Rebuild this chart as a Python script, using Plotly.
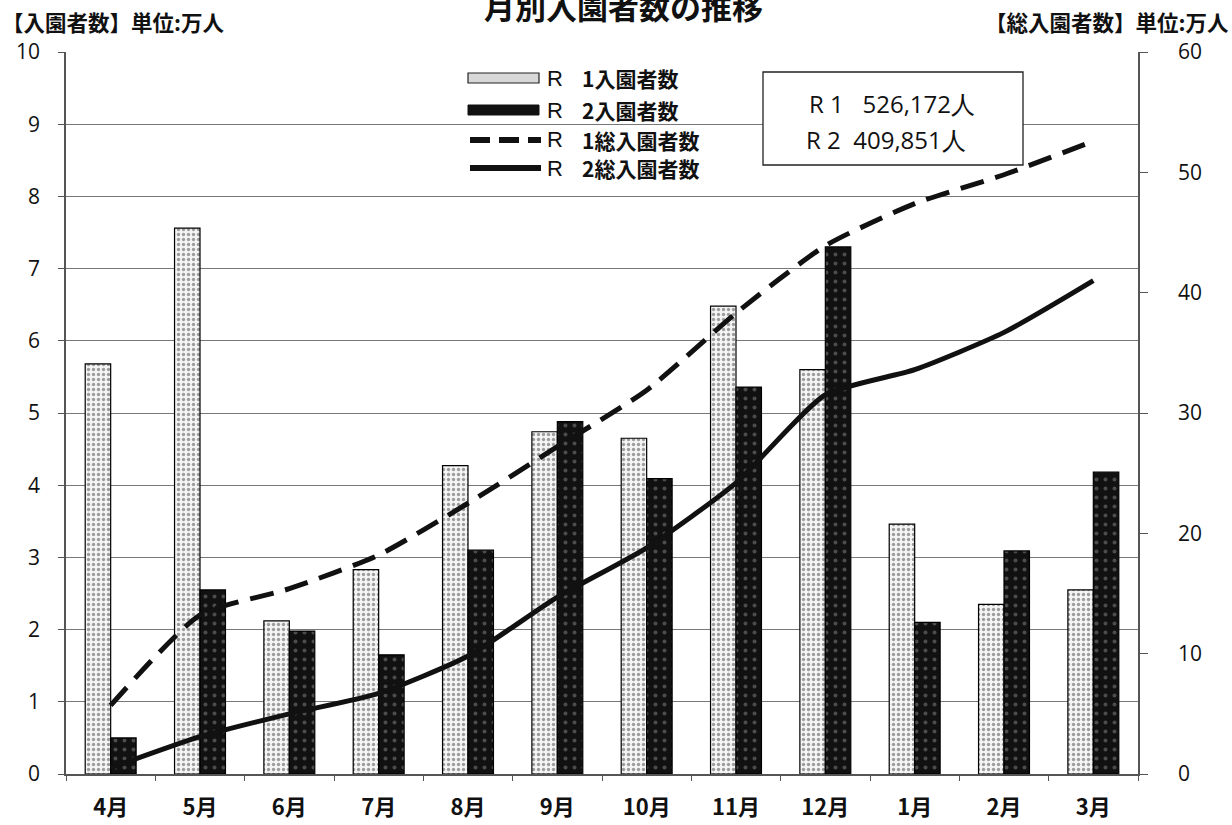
import plotly.graph_objects as go

months = ["4月", "5月", "6月", "7月", "8月", "9月", "10月", "11月", "12月", "1月", "2月", "3月"]
r1_monthly = [5.68, 7.56, 2.12, 2.83, 4.27, 4.74, 4.65, 6.48, 5.60, 3.46, 2.35, 2.55]
r2_monthly = [0.50, 2.55, 1.98, 1.65, 3.10, 4.88, 4.09, 5.36, 7.30, 2.10, 3.09, 4.18]
r1_total = [5.7, 13.2, 15.4, 18.2, 22.5, 27.2, 31.9, 38.3, 43.9, 47.4, 49.8, 52.6]
r2_total = [0.5, 3.1, 5.0, 6.7, 9.8, 14.7, 18.8, 24.2, 31.5, 33.6, 36.7, 41.0]
series_names = ["R\u30001入園者数", "R\u30002入園者数", "R\u30001総入園者数", "R\u30002総入園者数"]
legend_prefix = ["R", "R", "R", "R"]
legend_rest = ["1入園者数", "2入園者数", "1総入園者数", "2総入園者数"]

left_ticks = list(range(0, 11))
right_ticks = list(range(0, 61, 10))

JP = "Noto Sans CJK JP"
NUM = "Open Sans"

W, H = 1232, 825
ML, MR, MT, MB = 66, 94, 52, 51
PW, PH = W - ML - MR, H - MT - MB


def px(xp):
    return (xp - ML) / PW


def py(yp):
    return (H - MB - yp) / PH


fig = go.Figure()
fig.add_trace(go.Bar(
    x=months, y=r1_monthly, name=series_names[0],
    marker=dict(color="white", line=dict(color="black", width=1.2),
                pattern=dict(shape=".", fgcolor="#444", bgcolor="#f4f4f4", size=5, solidity=0.35)),
    yaxis="y",
))
fig.add_trace(go.Bar(
    x=months, y=r2_monthly, name=series_names[1],
    marker=dict(color="#111", line=dict(color="black", width=1.2),
                pattern=dict(shape=".", fgcolor="#888", bgcolor="#111", size=9, solidity=0.15)),
    yaxis="y",
))
fig.add_trace(go.Scatter(
    x=months, y=r1_total, name=series_names[2], mode="lines",
    line=dict(color="#111", width=5, dash="24px,12px", shape="spline", smoothing=0.6),
    yaxis="y2",
))
fig.add_trace(go.Scatter(
    x=months, y=r2_total, name=series_names[3], mode="lines",
    line=dict(color="#111", width=5, shape="spline", smoothing=0.6),
    yaxis="y2",
))

fig.update_layout(
    width=W, height=H,
    margin=dict(l=ML, r=MR, t=MT, b=MB, autoexpand=False),
    paper_bgcolor="white", plot_bgcolor="white",
    barmode="group", bargap=0.43, bargroupgap=0.0,
    font=dict(family=JP, color="#111"),
    showlegend=False,
    xaxis=dict(
        type="category", showgrid=False, showline=True, linecolor="#555", linewidth=1.5,
        ticks="outside", ticklen=5, tickcolor="#555", tickson="boundaries",
        tickfont=dict(family=JP, size=22, color="#111", weight="bold"), ticklabelstandoff=13,
    ),
    yaxis=dict(
        range=[0, 10], tickvals=left_ticks, showgrid=True, gridcolor="#777", gridwidth=1.2,
        showline=True, linecolor="#555", linewidth=1.5, ticks="outside", ticklen=6, tickcolor="#555",
        tickfont=dict(family=NUM, size=21, color="#111"), zeroline=False, ticklabelstandoff=14,
    ),
    yaxis2=dict(
        range=[0, 60], tickvals=right_ticks, overlaying="y", side="right", showgrid=False,
        showline=True, linecolor="#555", linewidth=1.5, ticks="outside", ticklen=8, tickcolor="#555",
        tickfont=dict(family=NUM, size=21, color="#111"), zeroline=False, ticklabelstandoff=26,
    ),
)

# titles
fig.add_annotation(xref="paper", yref="paper", x=px(623), y=py(5), text="<b>月別入園者数の推移</b>",
                   showarrow=False, font=dict(family=JP, size=31, color="#111"),
                   xanchor="center", yanchor="middle")
fig.add_annotation(xref="paper", yref="paper", x=px(0), y=py(22), text="<b>【入園者数】単位:万人</b>",
                   showarrow=False, font=dict(family=JP, size=21.5, color="#111"),
                   xanchor="left", yanchor="middle")
fig.add_annotation(xref="paper", yref="paper", x=px(1231), y=py(22), text="<b>【総入園者数】単位:万人</b>",
                   showarrow=False, font=dict(family=JP, size=21.5, color="#111"),
                   xanchor="right", yanchor="middle")

# totals box
fig.add_shape(type="rect", xref="paper", yref="paper", x0=px(763), x1=px(1023), y0=py(72), y1=py(165),
              line=dict(color="#222", width=1.3), fillcolor="white", layer="above")
fig.add_annotation(xref="paper", yref="paper", x=px(892), y=py(103),
                   text="R\u00a01\u00a0\u00a0\u00a0526,172人",
                   showarrow=False, font=dict(family=NUM, size=24, color="#111"),
                   xanchor="center", yanchor="middle")
fig.add_annotation(xref="paper", yref="paper", x=px(886), y=py(140),
                   text="R\u00a02\u00a0\u00a0409,851人",
                   showarrow=False, font=dict(family=NUM, size=24, color="#111"),
                   xanchor="center", yanchor="middle")

# custom legend
rows = [78, 110, 140, 168]
fig.add_shape(type="rect", xref="paper", yref="paper", x0=px(468), x1=px(539), y0=py(rows[0] - 5), y1=py(rows[0] + 5),
              line=dict(color="#222", width=1.2), fillcolor="#d8d8d8", layer="above")
fig.add_shape(type="rect", xref="paper", yref="paper", x0=px(468), x1=px(539), y0=py(rows[1] - 5), y1=py(rows[1] + 5),
              line=dict(color="#111", width=1), fillcolor="#111", layer="above")
fig.add_shape(type="line", xref="paper", yref="paper", x0=px(470), x1=px(541), y0=py(rows[2]), y1=py(rows[2]),
              line=dict(color="#111", width=6, dash="20px,9px"), layer="above")
fig.add_shape(type="line", xref="paper", yref="paper", x0=px(470), x1=px(541), y0=py(rows[3]), y1=py(rows[3]),
              line=dict(color="#111", width=6), layer="above")
for r, pre, rest in zip(rows, legend_prefix, legend_rest):
    fig.add_annotation(xref="paper", yref="paper", x=px(545), y=py(r), text=pre,
                       showarrow=False, font=dict(family="Liberation Sans", size=22, color="#111"),
                       xanchor="left", yanchor="middle")
    fig.add_annotation(xref="paper", yref="paper", x=px(580), y=py(r), text="<b>" + rest + "</b>",
                       showarrow=False, font=dict(family=JP, size=21, color="#111"),
                       xanchor="left", yanchor="middle")

fig.write_html("out.html", config={"displayModeBar": False},
               post_script="document.body.style.margin='0';document.body.style.overflow='hidden';")
